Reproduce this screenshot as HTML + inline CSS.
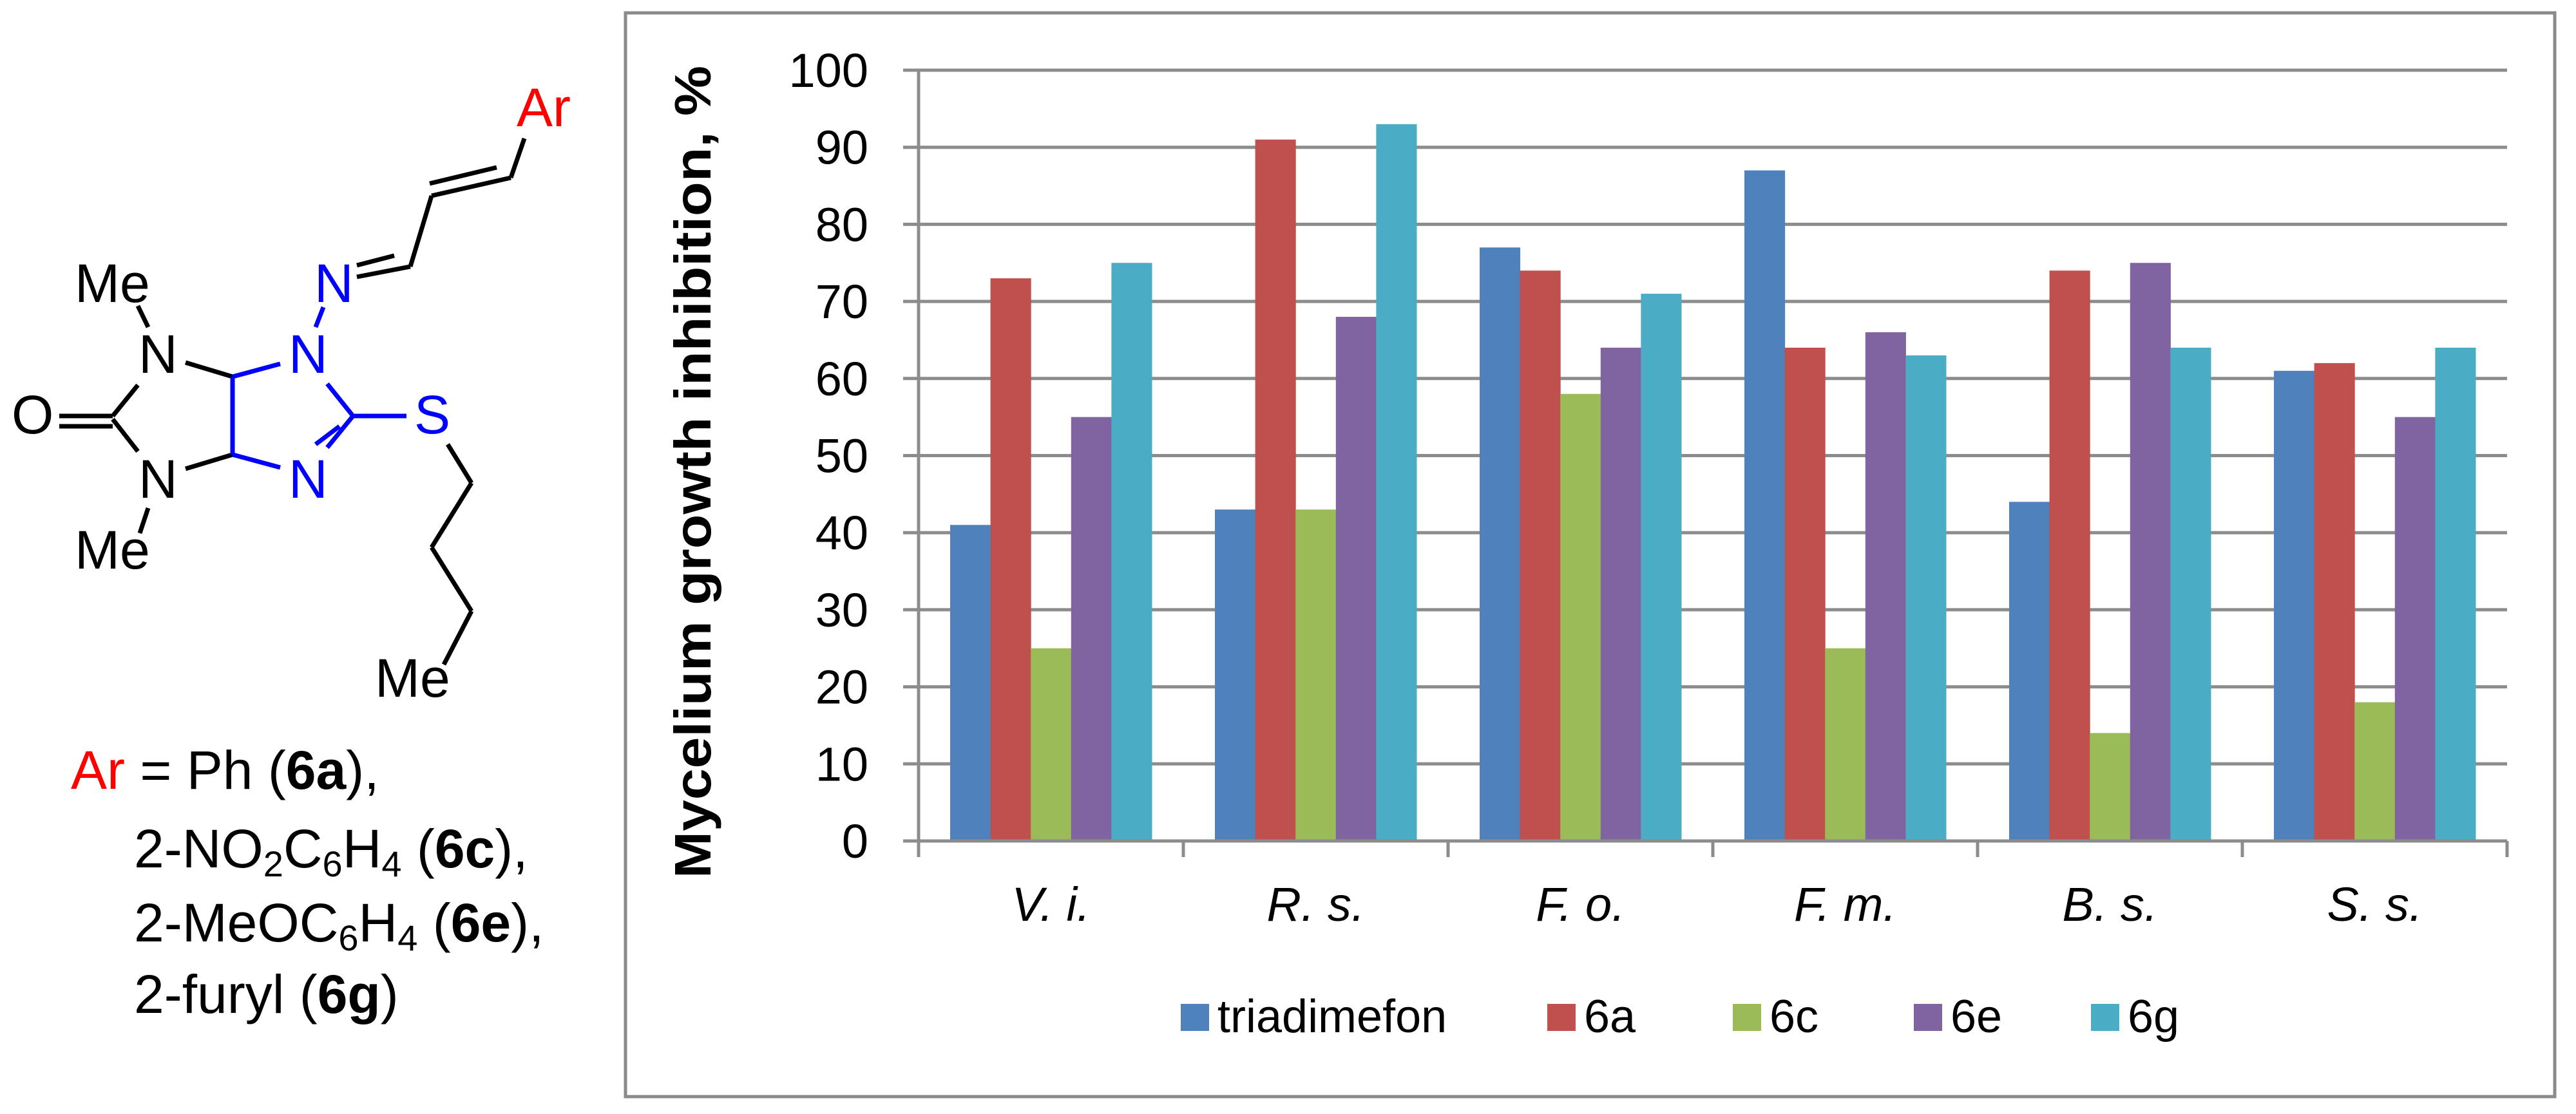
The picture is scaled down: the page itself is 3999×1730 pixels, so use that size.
<!DOCTYPE html>
<html><head><meta charset="utf-8"><style>
html,body{margin:0;padding:0;background:#fff;}
svg{display:block;}
</style></head><body>
<svg id="root" width="3999" height="1730" viewBox="0 0 3999 1730" xmlns="http://www.w3.org/2000/svg" font-family="'Liberation Sans', Arial, sans-serif">
<g id="structure" stroke-width="7" fill="none">
  <g stroke="#000">
    <line x1="214" y1="475" x2="230" y2="508"/>
    <line x1="92" y1="646" x2="175" y2="646"/>
    <line x1="92" y1="662" x2="175" y2="662"/>
    <line x1="175" y1="646" x2="214" y2="598"/>
    <line x1="175" y1="651" x2="214" y2="701"/>
    <line x1="230" y1="789" x2="217" y2="828"/>
    <line x1="288" y1="563" x2="361" y2="585"/>
    <line x1="288" y1="728" x2="361" y2="706"/>
    <line x1="814" y1="215" x2="793" y2="276"/>
    <line x1="793" y1="276" x2="670" y2="304"/>
    <line x1="771" y1="260" x2="667" y2="285"/>
    <line x1="670" y1="304" x2="637" y2="414"/>
    <line x1="637" y1="414" x2="554" y2="430"/>
    <line x1="612" y1="397" x2="554" y2="412"/>
    <line x1="695" y1="690" x2="732" y2="750"/>
    <line x1="732" y1="750" x2="670" y2="850"/>
    <line x1="670" y1="850" x2="732" y2="949"/>
    <line x1="732" y1="949" x2="689" y2="1032"/>
  </g>
  <g stroke="#0000ff">
    <line x1="502" y1="477" x2="490" y2="508"/>
    <line x1="361" y1="585" x2="435" y2="565"/>
    <line x1="361" y1="585" x2="361" y2="706"/>
    <line x1="361" y1="706" x2="435" y2="726"/>
    <line x1="508" y1="596" x2="548" y2="646"/>
    <line x1="548" y1="646" x2="508" y2="695"/>
    <line x1="527" y1="662" x2="490" y2="690"/>
    <line x1="548" y1="646" x2="631" y2="646"/>
  </g>
  <g font-size="84" fill="#000">
    <text x="802" y="196" fill="#ff0000">Ar</text>
    <text x="488" y="469" fill="#0000ff">N</text>
    <text x="448" y="579" fill="#0000ff">N</text>
    <text x="448" y="773" fill="#0000ff">N</text>
    <text x="643" y="673" fill="#0000ff">S</text>
    <text x="116" y="469">Me</text>
    <text x="215" y="579">N</text>
    <text x="18" y="673">O</text>
    <text x="215" y="773">N</text>
    <text x="116" y="883">Me</text>
    <text x="582" y="1082">Me</text>
  </g>
  <g font-size="84" fill="#000">
    <text x="110" y="1225"><tspan fill="#ff0000">Ar</tspan> = Ph (<tspan font-weight="bold">6a</tspan>),</text>
    <text x="208" y="1347">2-NO<tspan font-size="56" dy="14">2</tspan><tspan dy="-14">C</tspan><tspan font-size="56" dy="14">6</tspan><tspan dy="-14">H</tspan><tspan font-size="56" dy="14">4</tspan><tspan dy="-14"> (</tspan><tspan font-weight="bold">6c</tspan>),</text>
    <text x="208" y="1462">2-MeOC<tspan font-size="56" dy="14">6</tspan><tspan dy="-14">H</tspan><tspan font-size="56" dy="14">4</tspan><tspan dy="-14"> (</tspan><tspan font-weight="bold">6e</tspan>),</text>
    <text x="208" y="1573">2-furyl (<tspan font-weight="bold">6g</tspan>)</text>
  </g>
</g>
<rect x="971" y="20" width="2995" height="1683" fill="#fff" stroke="#8a8a8a" stroke-width="5"/>
<g id="chart"></g>
</svg>
<script>
const categories = ["V. i.", "R. s.", "F. o.", "F. m.", "B. s.", "S. s."];
const seriesNames = ["triadimefon", "6a", "6c", "6e", "6g"];
const triadimefon = [41, 43, 77, 87, 44, 61];
const s6a = [73, 91, 74, 64, 74, 62];
const s6c = [25, 43, 58, 25, 14, 18];
const s6e = [55, 68, 64, 66, 75, 55];
const s6g = [75, 93, 71, 63, 64, 64];
const yTicks = [0, 10, 20, 30, 40, 50, 60, 70, 80, 90, 100];

const allSeries = [triadimefon, s6a, s6c, s6e, s6g];
const colors = ["#4F81BD", "#C0504D", "#9BBB59", "#8064A2", "#4BACC6"];
const legendX = [1833, 2402, 2690, 2971, 3246];
const NS = "http://www.w3.org/2000/svg";
const g = document.getElementById("chart");
const X0 = 1426, X1 = 3892, Y0 = 1306, Y1 = 109;
const catW = (X1 - X0) / categories.length;
const barW = 62.6;
const yScale = v => Y0 - (v - 0) / (100 - 0) * (Y0 - Y1);
const xCat = i => X0 + i * catW;
function mk(tag, attrs, parent) {
  const e = document.createElementNS(NS, tag);
  for (const k in attrs) e.setAttribute(k, attrs[k]);
  (parent || g).appendChild(e);
  return e;
}
yTicks.forEach(t => {
  const y = yScale(t);
  const ln = mk("line", {x1: 1402, x2: X1, y1: y, y2: y, stroke: "#8c8c8c", "stroke-width": 5});
  
  
  const tx = mk("text", {x: 1348, y: y + 26, "font-size": 74, "text-anchor": "end", fill: "#000"});
  tx.textContent = t;
  
  
});
allSeries.forEach((vals, s) => {
  vals.forEach((v, i) => {
    const x = xCat(i) + (catW - 5 * barW) / 2 + s * barW;
    const r = mk("rect", {x: x, y: yScale(v), width: barW + 0.5, height: Y0 - yScale(v), fill: colors[s]});
    
    
  });
});
const ya = mk("line", {x1: X0, x2: X0, y1: Y1, y2: Y0 + 25, stroke: "#8c8c8c", "stroke-width": 5});


const xa = mk("line", {x1: 1402, x2: X1, y1: Y0, y2: Y0, stroke: "#8c8c8c", "stroke-width": 5});


categories.forEach((c, i) => {
  const tk = mk("line", {x1: xCat(i + 1), x2: xCat(i + 1), y1: Y0, y2: Y0 + 25, stroke: "#8c8c8c", "stroke-width": 5});
  
  
  const tx = mk("text", {x: xCat(i) + catW / 2, y: 1430, "font-size": 74, "font-style": "italic", "text-anchor": "middle", fill: "#000"});
  tx.textContent = c;
  
  
});
const yt = mk("text", {x: 0, y: 0, "font-size": 80, "font-weight": "bold", "text-anchor": "middle", fill: "#000", transform: "translate(1103,733) rotate(-90)", textLength: 1262, lengthAdjust: "spacingAndGlyphs"});
yt.textContent = "Mycelium growth inhibition, %";


seriesNames.forEach((n, s) => {
  const r = mk("rect", {x: legendX[s], y: 1559, width: 44, height: 42, fill: colors[s]});
  
  
  const t = mk("text", {x: legendX[s] + 57, y: 1603, "font-size": 72, fill: "#000"});
  t.textContent = n;
  
  
});
</script>
</body></html>
